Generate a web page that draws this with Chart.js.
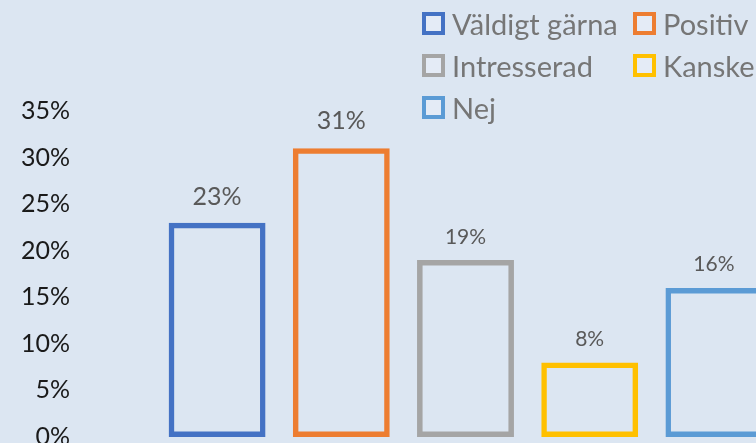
<!DOCTYPE html>
<html>
<head>
<meta charset="utf-8">
<script src="https://cdn.jsdelivr.net/npm/chart.js@4/dist/chart.umd.min.js"></script>
<style>
    html, body { margin: 0; padding: 0; background: #dce6f2; overflow: hidden; }
    #wrap { position: relative; width: 756px; height: 443px; overflow: hidden; }
    #box { position: absolute; left: 0; top: 0; width: 800px; height: 480px; }
    #legend {
        position: absolute; left: 422px; top: 3px;
        display: grid; grid-template-columns: 211px 150px; grid-auto-rows: 41.7px;
        font-family: Lato, "Open Sans", sans-serif; font-size: 29px; color: #767676;
    }
    .item { display: flex; align-items: center; white-space: nowrap; }
    .box { width: 15px; height: 15px; border: 4px solid; background: #e4ebf6; margin-right: 7px; flex: none; }
</style>
</head>
<body>
<div id="wrap">
    <div id="box"><canvas id="chart"></canvas></div>
    <div id="legend"></div>
</div>
<script>
var categories = ["Väldigt gärna", "Positiv", "Intresserad", "Kanske", "Nej"];
var values = [23, 31, 19, 8, 16];
var yTicks = [0, 5, 10, 15, 20, 25, 30, 35];
var barColors = ["#4472c4", "#ed7d31", "#a5a5a5", "#ffc000", "#5b9bd5"];

// value labels above bars: first two are drawn a bit larger in the original
var labelSizes = [25, 25, 21, 21, 21];
var labelGaps = [26, 27, 23, 23, 24];

var valueLabels = {
    id: "valueLabels",
    afterDatasetsDraw: function (chart) {
        var ctx = chart.ctx;
        var meta = chart.getDatasetMeta(0);
        ctx.save();
        ctx.fillStyle = "#595959";
        ctx.textAlign = "center";
        ctx.textBaseline = "middle";
        meta.data.forEach(function (bar, i) {
            ctx.font = labelSizes[i] + "px Lato, 'Open Sans', sans-serif";
            ctx.fillText(values[i] + "%", bar.x, bar.y - labelGaps[i]);
        });
        ctx.restore();
    }
};

var chart = new Chart(document.getElementById("chart"), {
    type: "bar",
    data: {
        labels: categories,
        datasets: [{
            data: values,
            backgroundColor: "rgba(0,0,0,0)",
            borderColor: barColors,
            borderWidth: 5.5,
            borderSkipped: false,
            barPercentage: 0.78,
            categoryPercentage: 1
        }]
    },
    options: {
        responsive: true,
        maintainAspectRatio: false,
        animation: false,
        layout: {
            padding: { left: 0, top: 111, right: 24, bottom: 43 }
        },
        plugins: {
            legend: { display: false },
            tooltip: { enabled: false }
        },
        scales: {
            x: { display: false },
            y: {
                min: 0,
                max: 35,
                afterBuildTicks: function (scale) {
                    scale.ticks = yTicks.map(function (v) { return { value: v }; });
                },
                afterFit: function (scale) {
                    // wide gap between labels and bars, without the tick padding
                    // also pushing the plot away from top and bottom
                    scale.width = 155;
                    scale.paddingTop = 15;
                    scale.paddingBottom = 15;
                },
                grid: { display: false, drawTicks: false },
                border: { display: false },
                ticks: {
                    padding: 85,
                    color: "#1a1a1a",
                    font: { family: "Lato, 'Open Sans', sans-serif", size: 25 },
                    callback: function (v) { return v + "%"; }
                }
            }
        }
    },
    plugins: [valueLabels]
});

// legend in two columns like the original
var legend = document.getElementById("legend");
categories.forEach(function (name, i) {
    var item = document.createElement("div");
    item.className = "item";
    item.innerHTML = '<span class="box" style="border-color:' + barColors[i] + '"></span>' + name;
    legend.appendChild(item);
});
</script>
</body>
</html>
